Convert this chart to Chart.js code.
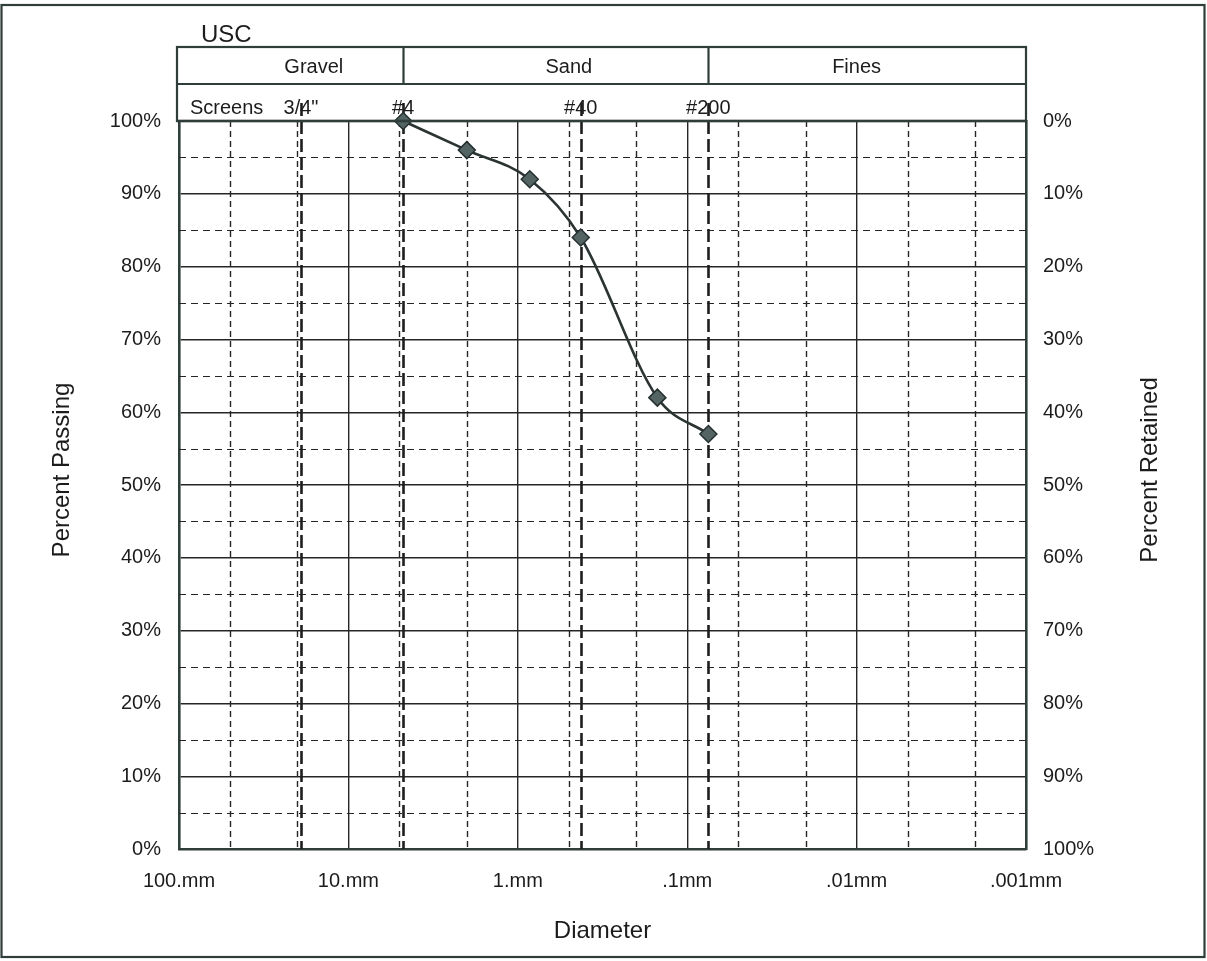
<!DOCTYPE html>
<html>
<head>
<meta charset="utf-8">
<title>USC Gradation</title>
<script src="https://cdn.jsdelivr.net/npm/chart.js@4.4.1/dist/chart.umd.min.js"></script>
<style>
  html, body { margin: 0; padding: 0; background: #ffffff; }
  #wrap { position: relative; width: 1207px; height: 961px; }
  canvas { display: block; }
</style>
</head>
<body>
<div id="wrap"><canvas id="chart" width="1207" height="961"></canvas></div>
<script>
// Sieve analysis results
const sieveSizesMm = [4.75, 2.0, 0.85, 0.425, 0.15, 0.075];
const percentPassing = [100, 96, 92, 84, 62, 57];

// Diameter axis: decade ticks and their labels
const decadeTicksMm = [100, 10, 1, 0.1, 0.01, 0.001];
const decadeLabels = ['100.mm', '10.mm', '1.mm', '.1mm', '.01mm', '.001mm'];
// Light dashed verticals at 5x and 2x of each decade
const minorGridMm = [50, 20, 5, 2, 0.5, 0.2, 0.05, 0.02, 0.005, 0.002];

// Screen (sieve) reference lines
const screenSizesMm = [19.05, 4.75, 0.425, 0.075];
const screenLabels = ['3/4"', '#4', '#40', '#200'];

// USC soil classes and their boundaries (#4 and #200)
const soilClasses = ['Gravel', 'Sand', 'Fines'];
const classBoundsMm = [4.75, 0.075];
const classLabelAtMm = [16, 0.5, 0.01];

// Percent axes
const percentStep = 10;
const halfStepPercents = [5, 15, 25, 35, 45, 55, 65, 75, 85, 95];

const FONT = "'Liberation Sans', Arial, Helvetica, sans-serif";
const INK = '#1c1c1c';
const FRAME = '#2f3d3b';
const GRID = '#262626';

const W = 1207, H = 961;
const AREA = { left: 179, right: 1026, top: 121, bottom: 849 };

const gradationPlugin = {
  id: 'gradation',
  beforeDatasetsDraw(chart) {
    const { ctx, chartArea: ca, scales } = chart;
    const x = scales.x, y = scales.y;
    ctx.save();
    // dashed half-step horizontals
    ctx.strokeStyle = GRID;
    ctx.lineWidth = 1.2;
    ctx.setLineDash([7, 5]);
    halfStepPercents.forEach(p => {
      const py = Math.round(y.getPixelForValue(p)) + 0.5;
      ctx.beginPath(); ctx.moveTo(ca.left, py); ctx.lineTo(ca.right, py); ctx.stroke();
    });
    // dashed minor verticals
    ctx.setLineDash([6, 4]);
    ctx.lineWidth = 1.4;
    minorGridMm.forEach(d => {
      const px = Math.round(x.getPixelForValue(d)) + 0.5;
      ctx.beginPath(); ctx.moveTo(px, ca.top); ctx.lineTo(px, ca.bottom); ctx.stroke();
    });
    // heavy dashed screen lines, rising into the screen row
    ctx.setLineDash([13, 5]);
    ctx.lineWidth = 2.6;
    ctx.strokeStyle = '#1e1e1e';
    screenSizesMm.forEach(d => {
      const px = Math.round(x.getPixelForValue(d)) + 0.5;
      ctx.beginPath(); ctx.moveTo(px, ca.top - 18); ctx.lineTo(px, ca.bottom); ctx.stroke();
    });
    ctx.restore();
  },
  afterDraw(chart) {
    const { ctx, chartArea: ca, scales } = chart;
    const x = scales.x;
    const boxTop = 47, rowMid = 84, boxLeft = ca.left - 2, boxRight = ca.right;
    ctx.save();
    // header box
    ctx.setLineDash([]);
    ctx.strokeStyle = FRAME;
    ctx.lineWidth = 2.2;
    ctx.strokeRect(boxLeft, boxTop, boxRight - boxLeft, ca.top - boxTop);
    ctx.beginPath(); ctx.moveTo(boxLeft, rowMid); ctx.lineTo(boxRight, rowMid); ctx.stroke();
    classBoundsMm.forEach(d => {
      const px = Math.round(x.getPixelForValue(d)) + 0.5;
      ctx.beginPath(); ctx.moveTo(px, boxTop); ctx.lineTo(px, rowMid); ctx.stroke();
    });
    // top border of the plot
    ctx.lineWidth = 2.6;
    ctx.beginPath(); ctx.moveTo(boxLeft, ca.top); ctx.lineTo(boxRight, ca.top); ctx.stroke();

    ctx.fillStyle = INK;
    ctx.textBaseline = 'middle';
    // USC heading
    ctx.font = `24px ${FONT}`;
    ctx.textAlign = 'left';
    ctx.fillText('USC', 201, 35);
    // class names
    ctx.font = `20px ${FONT}`;
    ctx.textAlign = 'center';
    soilClasses.forEach((name, i) => {
      ctx.fillText(name, x.getPixelForValue(classLabelAtMm[i]), 67);
    });
    // screen row
    ctx.textAlign = 'left';
    ctx.fillText('Screens', 190, 108);
    ctx.textAlign = 'center';
    screenLabels.forEach((lab, i) => {
      ctx.fillText(lab, x.getPixelForValue(screenSizesMm[i]), 108);
    });

    // vertical axis titles
    ctx.font = `24px ${FONT}`;
    const midY = 470;
    [['Percent Passing', 62], ['Percent Retained', 1150]].forEach(([t, cx]) => {
      ctx.save();
      ctx.translate(cx, midY);
      ctx.rotate(-Math.PI / 2);
      ctx.textAlign = 'center';
      ctx.fillText(t, 0, 0);
      ctx.restore();
    });

    // outer frame
    ctx.strokeStyle = FRAME;
    ctx.lineWidth = 2.2;
    ctx.strokeRect(1.5, 5, 1203, 952);
    ctx.restore();
  }
};

new Chart(document.getElementById('chart'), {
  type: 'line',
  data: {
    datasets: [{
      label: 'Percent Passing',
      data: sieveSizesMm.map((d, i) => ({ x: d, y: percentPassing[i] })),
      borderColor: '#2b3333',
      borderWidth: 2.6,
      cubicInterpolationMode: 'monotone',
      pointStyle: 'rectRot',
      pointRadius: 8.5,
      pointBackgroundColor: '#536463',
      pointBorderColor: '#263030',
      pointBorderWidth: 1.5,
      clip: false
    }]
  },
  options: {
    responsive: false,
    animation: false,
    devicePixelRatio: 1,
    layout: { padding: { top: AREA.top, left: 0, right: 0, bottom: 0 } },
    plugins: { legend: { display: false }, tooltip: { enabled: false }, title: { display: false } },
    scales: {
      x: {
        type: 'logarithmic',
        min: 0.001,
        max: 100,
        reverse: true,
        afterBuildTicks: s => { s.ticks = decadeTicksMm.map(v => ({ value: v })); },
        afterFit: s => { s.height = H - AREA.bottom; },
        ticks: {
          autoSkip: false,
          maxRotation: 0,
          padding: 20,
          color: INK,
          font: { family: FONT, size: 20 },
          callback: (v, i) => decadeLabels[i]
        },
        grid: { color: GRID, lineWidth: 1.4, drawTicks: false },
        border: { color: FRAME, width: 2.6 },
        title: {
          display: true,
          text: 'Diameter',
          color: INK,
          font: { family: FONT, size: 24 },
          padding: { top: 0, bottom: 15 }
        }
      },
      y: {
        type: 'linear',
        position: 'left',
        min: 0,
        max: 100,
        afterFit: s => { s.width = AREA.left; },
        ticks: {
          stepSize: percentStep,
          padding: 18,
          color: INK,
          font: { family: FONT, size: 20 },
          callback: v => v + '%'
        },
        grid: { color: GRID, lineWidth: 1.4, drawTicks: false },
        border: { color: FRAME, width: 2.6 }
      },
      y2: {
        type: 'linear',
        position: 'right',
        min: 0,
        max: 100,
        reverse: true,
        afterFit: s => { s.width = W - AREA.right; },
        ticks: {
          stepSize: percentStep,
          padding: 17,
          color: INK,
          font: { family: FONT, size: 20 },
          callback: v => v + '%'
        },
        grid: { drawOnChartArea: false, drawTicks: false },
        border: { color: FRAME, width: 2.6 }
      }
    }
  },
  plugins: [gradationPlugin]
});
</script>
</body>
</html>
